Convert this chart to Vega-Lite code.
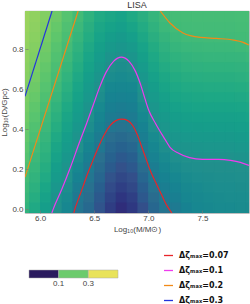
{
"$schema":"https://vega.github.io/schema/vega-lite/v6.json",
"width":224,"height":202,
"autosize":{"type":"none"},
"padding":{"left":25,"top":11,"right":1,"bottom":91},
"background":"white",
"title":{"text":"LISA","fontSize":9,"fontWeight":"normal","font":"Liberation Sans","color":"#333","offset":2,"dy":1,"frame":"group"},
"config":{"view":{"stroke":"#999","strokeWidth":0.8},"font":"Liberation Sans"},
"datasets":{
"grid":[
{"x":5.85,"y":-0.025,"z":0.167},{"x":5.85,"y":0.025,"z":0.177},{"x":5.85,"y":0.075,"z":0.186},{"x":5.85,"y":0.125,"z":0.196},{"x":5.85,"y":0.175,"z":0.208},{"x":5.85,"y":0.225,"z":0.220},{"x":5.85,"y":0.275,"z":0.233},{"x":5.85,"y":0.325,"z":0.245},{"x":5.85,"y":0.375,"z":0.258},{"x":5.85,"y":0.425,"z":0.270},{"x":5.85,"y":0.475,"z":0.283},{"x":5.85,"y":0.525,"z":0.295},{"x":5.85,"y":0.575,"z":0.307},{"x":5.85,"y":0.625,"z":0.317},{"x":5.85,"y":0.675,"z":0.327},{"x":5.85,"y":0.725,"z":0.337},{"x":5.85,"y":0.775,"z":0.346},{"x":5.85,"y":0.825,"z":0.355},{"x":5.85,"y":0.875,"z":0.363},{"x":5.85,"y":0.925,"z":0.371},{"x":5.85,"y":0.975,"z":0.378},
{"x":5.95,"y":-0.025,"z":0.139},{"x":5.95,"y":0.025,"z":0.149},{"x":5.95,"y":0.075,"z":0.158},{"x":5.95,"y":0.125,"z":0.167},{"x":5.95,"y":0.175,"z":0.176},{"x":5.95,"y":0.225,"z":0.185},{"x":5.95,"y":0.275,"z":0.194},{"x":5.95,"y":0.325,"z":0.204},{"x":5.95,"y":0.375,"z":0.217},{"x":5.95,"y":0.425,"z":0.229},{"x":5.95,"y":0.475,"z":0.241},{"x":5.95,"y":0.525,"z":0.253},{"x":5.95,"y":0.575,"z":0.266},{"x":5.95,"y":0.625,"z":0.278},{"x":5.95,"y":0.675,"z":0.290},{"x":5.95,"y":0.725,"z":0.302},{"x":5.95,"y":0.775,"z":0.313},{"x":5.95,"y":0.825,"z":0.323},{"x":5.95,"y":0.875,"z":0.333},{"x":5.95,"y":0.925,"z":0.342},{"x":5.95,"y":0.975,"z":0.350},
{"x":6.05,"y":-0.025,"z":0.116},{"x":6.05,"y":0.025,"z":0.124},{"x":6.05,"y":0.075,"z":0.133},{"x":6.05,"y":0.125,"z":0.141},{"x":6.05,"y":0.175,"z":0.150},{"x":6.05,"y":0.225,"z":0.158},{"x":6.05,"y":0.275,"z":0.167},{"x":6.05,"y":0.325,"z":0.175},{"x":6.05,"y":0.375,"z":0.184},{"x":6.05,"y":0.425,"z":0.192},{"x":6.05,"y":0.475,"z":0.201},{"x":6.05,"y":0.525,"z":0.213},{"x":6.05,"y":0.575,"z":0.225},{"x":6.05,"y":0.625,"z":0.237},{"x":6.05,"y":0.675,"z":0.249},{"x":6.05,"y":0.725,"z":0.261},{"x":6.05,"y":0.775,"z":0.273},{"x":6.05,"y":0.825,"z":0.285},{"x":6.05,"y":0.875,"z":0.297},{"x":6.05,"y":0.925,"z":0.308},{"x":6.05,"y":0.975,"z":0.318},
{"x":6.15,"y":-0.025,"z":0.097},{"x":6.15,"y":0.025,"z":0.100},{"x":6.15,"y":0.075,"z":0.105},{"x":6.15,"y":0.125,"z":0.111},{"x":6.15,"y":0.175,"z":0.118},{"x":6.15,"y":0.225,"z":0.125},{"x":6.15,"y":0.275,"z":0.133},{"x":6.15,"y":0.325,"z":0.140},{"x":6.15,"y":0.375,"z":0.149},{"x":6.15,"y":0.425,"z":0.158},{"x":6.15,"y":0.475,"z":0.167},{"x":6.15,"y":0.525,"z":0.177},{"x":6.15,"y":0.575,"z":0.187},{"x":6.15,"y":0.625,"z":0.198},{"x":6.15,"y":0.675,"z":0.208},{"x":6.15,"y":0.725,"z":0.218},{"x":6.15,"y":0.775,"z":0.229},{"x":6.15,"y":0.825,"z":0.240},{"x":6.15,"y":0.875,"z":0.252},{"x":6.15,"y":0.925,"z":0.264},{"x":6.15,"y":0.975,"z":0.277},
{"x":6.25,"y":-0.025,"z":0.083},{"x":6.25,"y":0.025,"z":0.087},{"x":6.25,"y":0.075,"z":0.091},{"x":6.25,"y":0.125,"z":0.096},{"x":6.25,"y":0.175,"z":0.101},{"x":6.25,"y":0.225,"z":0.106},{"x":6.25,"y":0.275,"z":0.112},{"x":6.25,"y":0.325,"z":0.119},{"x":6.25,"y":0.375,"z":0.125},{"x":6.25,"y":0.425,"z":0.133},{"x":6.25,"y":0.475,"z":0.140},{"x":6.25,"y":0.525,"z":0.148},{"x":6.25,"y":0.575,"z":0.157},{"x":6.25,"y":0.625,"z":0.166},{"x":6.25,"y":0.675,"z":0.175},{"x":6.25,"y":0.725,"z":0.185},{"x":6.25,"y":0.775,"z":0.195},{"x":6.25,"y":0.825,"z":0.206},{"x":6.25,"y":0.875,"z":0.216},{"x":6.25,"y":0.925,"z":0.226},{"x":6.25,"y":0.975,"z":0.237},
{"x":6.35,"y":-0.025,"z":0.065},{"x":6.35,"y":0.025,"z":0.068},{"x":6.35,"y":0.075,"z":0.071},{"x":6.35,"y":0.125,"z":0.076},{"x":6.35,"y":0.175,"z":0.082},{"x":6.35,"y":0.225,"z":0.088},{"x":6.35,"y":0.275,"z":0.094},{"x":6.35,"y":0.325,"z":0.101},{"x":6.35,"y":0.375,"z":0.106},{"x":6.35,"y":0.425,"z":0.112},{"x":6.35,"y":0.475,"z":0.119},{"x":6.35,"y":0.525,"z":0.125},{"x":6.35,"y":0.575,"z":0.132},{"x":6.35,"y":0.625,"z":0.139},{"x":6.35,"y":0.675,"z":0.147},{"x":6.35,"y":0.725,"z":0.155},{"x":6.35,"y":0.775,"z":0.164},{"x":6.35,"y":0.825,"z":0.173},{"x":6.35,"y":0.875,"z":0.183},{"x":6.35,"y":0.925,"z":0.193},{"x":6.35,"y":0.975,"z":0.203},
{"x":6.45,"y":-0.025,"z":0.054},{"x":6.45,"y":0.025,"z":0.057},{"x":6.45,"y":0.075,"z":0.061},{"x":6.45,"y":0.125,"z":0.065},{"x":6.45,"y":0.175,"z":0.069},{"x":6.45,"y":0.225,"z":0.073},{"x":6.45,"y":0.275,"z":0.078},{"x":6.45,"y":0.325,"z":0.084},{"x":6.45,"y":0.375,"z":0.089},{"x":6.45,"y":0.425,"z":0.096},{"x":6.45,"y":0.475,"z":0.102},{"x":6.45,"y":0.525,"z":0.107},{"x":6.45,"y":0.575,"z":0.113},{"x":6.45,"y":0.625,"z":0.119},{"x":6.45,"y":0.675,"z":0.125},{"x":6.45,"y":0.725,"z":0.132},{"x":6.45,"y":0.775,"z":0.139},{"x":6.45,"y":0.825,"z":0.147},{"x":6.45,"y":0.875,"z":0.155},{"x":6.45,"y":0.925,"z":0.163},{"x":6.45,"y":0.975,"z":0.172},
{"x":6.55,"y":-0.025,"z":0.038},{"x":6.55,"y":0.025,"z":0.042},{"x":6.55,"y":0.075,"z":0.045},{"x":6.55,"y":0.125,"z":0.049},{"x":6.55,"y":0.175,"z":0.054},{"x":6.55,"y":0.225,"z":0.059},{"x":6.55,"y":0.275,"z":0.064},{"x":6.55,"y":0.325,"z":0.070},{"x":6.55,"y":0.375,"z":0.075},{"x":6.55,"y":0.425,"z":0.080},{"x":6.55,"y":0.475,"z":0.085},{"x":6.55,"y":0.525,"z":0.090},{"x":6.55,"y":0.575,"z":0.096},{"x":6.55,"y":0.625,"z":0.102},{"x":6.55,"y":0.675,"z":0.108},{"x":6.55,"y":0.725,"z":0.114},{"x":6.55,"y":0.775,"z":0.120},{"x":6.55,"y":0.825,"z":0.127},{"x":6.55,"y":0.875,"z":0.134},{"x":6.55,"y":0.925,"z":0.142},{"x":6.55,"y":0.975,"z":0.150},
{"x":6.65,"y":-0.025,"z":0.027},{"x":6.65,"y":0.025,"z":0.030},{"x":6.65,"y":0.075,"z":0.033},{"x":6.65,"y":0.125,"z":0.037},{"x":6.65,"y":0.175,"z":0.041},{"x":6.65,"y":0.225,"z":0.046},{"x":6.65,"y":0.275,"z":0.051},{"x":6.65,"y":0.325,"z":0.056},{"x":6.65,"y":0.375,"z":0.062},{"x":6.65,"y":0.425,"z":0.069},{"x":6.65,"y":0.475,"z":0.074},{"x":6.65,"y":0.525,"z":0.078},{"x":6.65,"y":0.575,"z":0.083},{"x":6.65,"y":0.625,"z":0.088},{"x":6.65,"y":0.675,"z":0.094},{"x":6.65,"y":0.725,"z":0.099},{"x":6.65,"y":0.775,"z":0.107},{"x":6.65,"y":0.825,"z":0.114},{"x":6.65,"y":0.875,"z":0.123},{"x":6.65,"y":0.925,"z":0.132},{"x":6.65,"y":0.975,"z":0.142},
{"x":6.75,"y":-0.025,"z":0.021},{"x":6.75,"y":0.025,"z":0.024},{"x":6.75,"y":0.075,"z":0.027},{"x":6.75,"y":0.125,"z":0.031},{"x":6.75,"y":0.175,"z":0.035},{"x":6.75,"y":0.225,"z":0.040},{"x":6.75,"y":0.275,"z":0.045},{"x":6.75,"y":0.325,"z":0.051},{"x":6.75,"y":0.375,"z":0.058},{"x":6.75,"y":0.425,"z":0.066},{"x":6.75,"y":0.475,"z":0.072},{"x":6.75,"y":0.525,"z":0.076},{"x":6.75,"y":0.575,"z":0.081},{"x":6.75,"y":0.625,"z":0.086},{"x":6.75,"y":0.675,"z":0.091},{"x":6.75,"y":0.725,"z":0.096},{"x":6.75,"y":0.775,"z":0.102},{"x":6.75,"y":0.825,"z":0.110},{"x":6.75,"y":0.875,"z":0.117},{"x":6.75,"y":0.925,"z":0.126},{"x":6.75,"y":0.975,"z":0.135},
{"x":6.85,"y":-0.025,"z":0.025},{"x":6.85,"y":0.025,"z":0.028},{"x":6.85,"y":0.075,"z":0.031},{"x":6.85,"y":0.125,"z":0.035},{"x":6.85,"y":0.175,"z":0.039},{"x":6.85,"y":0.225,"z":0.044},{"x":6.85,"y":0.275,"z":0.049},{"x":6.85,"y":0.325,"z":0.055},{"x":6.85,"y":0.375,"z":0.062},{"x":6.85,"y":0.425,"z":0.069},{"x":6.85,"y":0.475,"z":0.074},{"x":6.85,"y":0.525,"z":0.078},{"x":6.85,"y":0.575,"z":0.083},{"x":6.85,"y":0.625,"z":0.088},{"x":6.85,"y":0.675,"z":0.094},{"x":6.85,"y":0.725,"z":0.099},{"x":6.85,"y":0.775,"z":0.108},{"x":6.85,"y":0.825,"z":0.116},{"x":6.85,"y":0.875,"z":0.126},{"x":6.85,"y":0.925,"z":0.137},{"x":6.85,"y":0.975,"z":0.148},
{"x":6.95,"y":-0.025,"z":0.035},{"x":6.95,"y":0.025,"z":0.039},{"x":6.95,"y":0.075,"z":0.044},{"x":6.95,"y":0.125,"z":0.048},{"x":6.95,"y":0.175,"z":0.054},{"x":6.95,"y":0.225,"z":0.060},{"x":6.95,"y":0.275,"z":0.067},{"x":6.95,"y":0.325,"z":0.073},{"x":6.95,"y":0.375,"z":0.077},{"x":6.95,"y":0.425,"z":0.082},{"x":6.95,"y":0.475,"z":0.087},{"x":6.95,"y":0.525,"z":0.093},{"x":6.95,"y":0.575,"z":0.099},{"x":6.95,"y":0.625,"z":0.105},{"x":6.95,"y":0.675,"z":0.112},{"x":6.95,"y":0.725,"z":0.119},{"x":6.95,"y":0.775,"z":0.127},{"x":6.95,"y":0.825,"z":0.135},{"x":6.95,"y":0.875,"z":0.144},{"x":6.95,"y":0.925,"z":0.153},{"x":6.95,"y":0.975,"z":0.163},
{"x":7.05,"y":-0.025,"z":0.050},{"x":7.05,"y":0.025,"z":0.055},{"x":7.05,"y":0.075,"z":0.060},{"x":7.05,"y":0.125,"z":0.066},{"x":7.05,"y":0.175,"z":0.072},{"x":7.05,"y":0.225,"z":0.076},{"x":7.05,"y":0.275,"z":0.081},{"x":7.05,"y":0.325,"z":0.086},{"x":7.05,"y":0.375,"z":0.092},{"x":7.05,"y":0.425,"z":0.098},{"x":7.05,"y":0.475,"z":0.103},{"x":7.05,"y":0.525,"z":0.109},{"x":7.05,"y":0.575,"z":0.116},{"x":7.05,"y":0.625,"z":0.123},{"x":7.05,"y":0.675,"z":0.130},{"x":7.05,"y":0.725,"z":0.138},{"x":7.05,"y":0.775,"z":0.146},{"x":7.05,"y":0.825,"z":0.154},{"x":7.05,"y":0.875,"z":0.163},{"x":7.05,"y":0.925,"z":0.173},{"x":7.05,"y":0.975,"z":0.183},
{"x":7.15,"y":-0.025,"z":0.062},{"x":7.15,"y":0.025,"z":0.068},{"x":7.15,"y":0.075,"z":0.073},{"x":7.15,"y":0.125,"z":0.077},{"x":7.15,"y":0.175,"z":0.082},{"x":7.15,"y":0.225,"z":0.086},{"x":7.15,"y":0.275,"z":0.092},{"x":7.15,"y":0.325,"z":0.097},{"x":7.15,"y":0.375,"z":0.103},{"x":7.15,"y":0.425,"z":0.109},{"x":7.15,"y":0.475,"z":0.115},{"x":7.15,"y":0.525,"z":0.122},{"x":7.15,"y":0.575,"z":0.129},{"x":7.15,"y":0.625,"z":0.136},{"x":7.15,"y":0.675,"z":0.144},{"x":7.15,"y":0.725,"z":0.153},{"x":7.15,"y":0.775,"z":0.162},{"x":7.15,"y":0.825,"z":0.171},{"x":7.15,"y":0.875,"z":0.181},{"x":7.15,"y":0.925,"z":0.192},{"x":7.15,"y":0.975,"z":0.201},
{"x":7.25,"y":-0.025,"z":0.070},{"x":7.25,"y":0.025,"z":0.073},{"x":7.25,"y":0.075,"z":0.078},{"x":7.25,"y":0.125,"z":0.083},{"x":7.25,"y":0.175,"z":0.087},{"x":7.25,"y":0.225,"z":0.093},{"x":7.25,"y":0.275,"z":0.098},{"x":7.25,"y":0.325,"z":0.104},{"x":7.25,"y":0.375,"z":0.110},{"x":7.25,"y":0.425,"z":0.116},{"x":7.25,"y":0.475,"z":0.123},{"x":7.25,"y":0.525,"z":0.130},{"x":7.25,"y":0.575,"z":0.138},{"x":7.25,"y":0.625,"z":0.146},{"x":7.25,"y":0.675,"z":0.154},{"x":7.25,"y":0.725,"z":0.163},{"x":7.25,"y":0.775,"z":0.172},{"x":7.25,"y":0.825,"z":0.182},{"x":7.25,"y":0.875,"z":0.192},{"x":7.25,"y":0.925,"z":0.203},{"x":7.25,"y":0.975,"z":0.208},
{"x":7.35,"y":-0.025,"z":0.079},{"x":7.35,"y":0.025,"z":0.082},{"x":7.35,"y":0.075,"z":0.086},{"x":7.35,"y":0.125,"z":0.089},{"x":7.35,"y":0.175,"z":0.093},{"x":7.35,"y":0.225,"z":0.097},{"x":7.35,"y":0.275,"z":0.101},{"x":7.35,"y":0.325,"z":0.107},{"x":7.35,"y":0.375,"z":0.113},{"x":7.35,"y":0.425,"z":0.120},{"x":7.35,"y":0.475,"z":0.127},{"x":7.35,"y":0.525,"z":0.134},{"x":7.35,"y":0.575,"z":0.142},{"x":7.35,"y":0.625,"z":0.150},{"x":7.35,"y":0.675,"z":0.159},{"x":7.35,"y":0.725,"z":0.169},{"x":7.35,"y":0.775,"z":0.178},{"x":7.35,"y":0.825,"z":0.189},{"x":7.35,"y":0.875,"z":0.200},{"x":7.35,"y":0.925,"z":0.204},{"x":7.35,"y":0.975,"z":0.208},
{"x":7.45,"y":-0.025,"z":0.084},{"x":7.45,"y":0.025,"z":0.087},{"x":7.45,"y":0.075,"z":0.089},{"x":7.45,"y":0.125,"z":0.092},{"x":7.45,"y":0.175,"z":0.095},{"x":7.45,"y":0.225,"z":0.098},{"x":7.45,"y":0.275,"z":0.102},{"x":7.45,"y":0.325,"z":0.108},{"x":7.45,"y":0.375,"z":0.115},{"x":7.45,"y":0.425,"z":0.121},{"x":7.45,"y":0.475,"z":0.128},{"x":7.45,"y":0.525,"z":0.136},{"x":7.45,"y":0.575,"z":0.144},{"x":7.45,"y":0.625,"z":0.152},{"x":7.45,"y":0.675,"z":0.161},{"x":7.45,"y":0.725,"z":0.171},{"x":7.45,"y":0.775,"z":0.181},{"x":7.45,"y":0.825,"z":0.191},{"x":7.45,"y":0.875,"z":0.201},{"x":7.45,"y":0.925,"z":0.205},{"x":7.45,"y":0.975,"z":0.209},
{"x":7.55,"y":-0.025,"z":0.087},{"x":7.55,"y":0.025,"z":0.089},{"x":7.55,"y":0.075,"z":0.092},{"x":7.55,"y":0.125,"z":0.094},{"x":7.55,"y":0.175,"z":0.096},{"x":7.55,"y":0.225,"z":0.099},{"x":7.55,"y":0.275,"z":0.103},{"x":7.55,"y":0.325,"z":0.109},{"x":7.55,"y":0.375,"z":0.115},{"x":7.55,"y":0.425,"z":0.122},{"x":7.55,"y":0.475,"z":0.129},{"x":7.55,"y":0.525,"z":0.137},{"x":7.55,"y":0.575,"z":0.145},{"x":7.55,"y":0.625,"z":0.153},{"x":7.55,"y":0.675,"z":0.162},{"x":7.55,"y":0.725,"z":0.172},{"x":7.55,"y":0.775,"z":0.182},{"x":7.55,"y":0.825,"z":0.192},{"x":7.55,"y":0.875,"z":0.202},{"x":7.55,"y":0.925,"z":0.205},{"x":7.55,"y":0.975,"z":0.209},
{"x":7.65,"y":-0.025,"z":0.089},{"x":7.65,"y":0.025,"z":0.091},{"x":7.65,"y":0.075,"z":0.093},{"x":7.65,"y":0.125,"z":0.095},{"x":7.65,"y":0.175,"z":0.097},{"x":7.65,"y":0.225,"z":0.099},{"x":7.65,"y":0.275,"z":0.103},{"x":7.65,"y":0.325,"z":0.109},{"x":7.65,"y":0.375,"z":0.115},{"x":7.65,"y":0.425,"z":0.122},{"x":7.65,"y":0.475,"z":0.129},{"x":7.65,"y":0.525,"z":0.137},{"x":7.65,"y":0.575,"z":0.145},{"x":7.65,"y":0.625,"z":0.153},{"x":7.65,"y":0.675,"z":0.162},{"x":7.65,"y":0.725,"z":0.172},{"x":7.65,"y":0.775,"z":0.182},{"x":7.65,"y":0.825,"z":0.192},{"x":7.65,"y":0.875,"z":0.202},{"x":7.65,"y":0.925,"z":0.205},{"x":7.65,"y":0.975,"z":0.209},
{"x":7.75,"y":-0.025,"z":0.090},{"x":7.75,"y":0.025,"z":0.092},{"x":7.75,"y":0.075,"z":0.094},{"x":7.75,"y":0.125,"z":0.095},{"x":7.75,"y":0.175,"z":0.097},{"x":7.75,"y":0.225,"z":0.099},{"x":7.75,"y":0.275,"z":0.103},{"x":7.75,"y":0.325,"z":0.109},{"x":7.75,"y":0.375,"z":0.115},{"x":7.75,"y":0.425,"z":0.122},{"x":7.75,"y":0.475,"z":0.129},{"x":7.75,"y":0.525,"z":0.137},{"x":7.75,"y":0.575,"z":0.145},{"x":7.75,"y":0.625,"z":0.153},{"x":7.75,"y":0.675,"z":0.162},{"x":7.75,"y":0.725,"z":0.172},{"x":7.75,"y":0.775,"z":0.182},{"x":7.75,"y":0.825,"z":0.192},{"x":7.75,"y":0.875,"z":0.201},{"x":7.75,"y":0.925,"z":0.205},{"x":7.75,"y":0.975,"z":0.209},
{"x":7.85,"y":-0.025,"z":0.091},{"x":7.85,"y":0.025,"z":0.093},{"x":7.85,"y":0.075,"z":0.094},{"x":7.85,"y":0.125,"z":0.096},{"x":7.85,"y":0.175,"z":0.098},{"x":7.85,"y":0.225,"z":0.100},{"x":7.85,"y":0.275,"z":0.105},{"x":7.85,"y":0.325,"z":0.111},{"x":7.85,"y":0.375,"z":0.117},{"x":7.85,"y":0.425,"z":0.124},{"x":7.85,"y":0.475,"z":0.131},{"x":7.85,"y":0.525,"z":0.139},{"x":7.85,"y":0.575,"z":0.147},{"x":7.85,"y":0.625,"z":0.155},{"x":7.85,"y":0.675,"z":0.165},{"x":7.85,"y":0.725,"z":0.174},{"x":7.85,"y":0.775,"z":0.184},{"x":7.85,"y":0.825,"z":0.195},{"x":7.85,"y":0.875,"z":0.203},{"x":7.85,"y":0.925,"z":0.207},{"x":7.85,"y":0.975,"z":0.211},
{"x":7.95,"y":-0.025,"z":0.091},{"x":7.95,"y":0.025,"z":0.093},{"x":7.95,"y":0.075,"z":0.095},{"x":7.95,"y":0.125,"z":0.097},{"x":7.95,"y":0.175,"z":0.098},{"x":7.95,"y":0.225,"z":0.101},{"x":7.95,"y":0.275,"z":0.107},{"x":7.95,"y":0.325,"z":0.113},{"x":7.95,"y":0.375,"z":0.120},{"x":7.95,"y":0.425,"z":0.127},{"x":7.95,"y":0.475,"z":0.134},{"x":7.95,"y":0.525,"z":0.142},{"x":7.95,"y":0.575,"z":0.150},{"x":7.95,"y":0.625,"z":0.159},{"x":7.95,"y":0.675,"z":0.169},{"x":7.95,"y":0.725,"z":0.178},{"x":7.95,"y":0.775,"z":0.189},{"x":7.95,"y":0.825,"z":0.200},{"x":7.95,"y":0.875,"z":0.205},{"x":7.95,"y":0.925,"z":0.209},{"x":7.95,"y":0.975,"z":0.213}
],
"contours":[
{"x":6.311,"y":-0.018,"level":"0.07","seg":"r"},{"x":6.32,"y":0.0,"level":"0.07","seg":"r"},{"x":6.36,"y":0.06,"level":"0.07","seg":"r"},{"x":6.40,"y":0.12,"level":"0.07","seg":"r"},{"x":6.44,"y":0.18,"level":"0.07","seg":"r"},{"x":6.47,"y":0.22,"level":"0.07","seg":"r"},{"x":6.53,"y":0.30,"level":"0.07","seg":"r"},{"x":6.59,"y":0.37,"level":"0.07","seg":"r"},{"x":6.65,"y":0.42,"level":"0.07","seg":"r"},{"x":6.70,"y":0.443,"level":"0.07","seg":"r"},{"x":6.756,"y":0.45,"level":"0.07","seg":"r"},{"x":6.81,"y":0.443,"level":"0.07","seg":"r"},{"x":6.86,"y":0.415,"level":"0.07","seg":"r"},{"x":6.90,"y":0.37,"level":"0.07","seg":"r"},{"x":6.94,"y":0.31,"level":"0.07","seg":"r"},{"x":6.98,"y":0.25,"level":"0.07","seg":"r"},{"x":7.02,"y":0.19,"level":"0.07","seg":"r"},{"x":7.065,"y":0.138,"level":"0.07","seg":"r"},{"x":7.12,"y":0.075,"level":"0.07","seg":"r"},{"x":7.17,"y":0.02,"level":"0.07","seg":"r"},{"x":7.217,"y":-0.018,"level":"0.07","seg":"r"},
{"x":6.108,"y":-0.018,"level":"0.1","seg":"m"},{"x":6.12,"y":0.0,"level":"0.1","seg":"m"},{"x":6.20,"y":0.10,"level":"0.1","seg":"m"},{"x":6.28,"y":0.21,"level":"0.1","seg":"m"},{"x":6.36,"y":0.33,"level":"0.1","seg":"m"},{"x":6.43,"y":0.43,"level":"0.1","seg":"m"},{"x":6.49,"y":0.52,"level":"0.1","seg":"m"},{"x":6.55,"y":0.61,"level":"0.1","seg":"m"},{"x":6.61,"y":0.685,"level":"0.1","seg":"m"},{"x":6.68,"y":0.74,"level":"0.1","seg":"m"},{"x":6.75,"y":0.76,"level":"0.1","seg":"m"},{"x":6.82,"y":0.74,"level":"0.1","seg":"m"},{"x":6.88,"y":0.69,"level":"0.1","seg":"m"},{"x":6.93,"y":0.62,"level":"0.1","seg":"m"},{"x":6.97,"y":0.55,"level":"0.1","seg":"m"},{"x":7.00,"y":0.50,"level":"0.1","seg":"m"},{"x":7.065,"y":0.43,"level":"0.1","seg":"m"},{"x":7.157,"y":0.347,"level":"0.1","seg":"m"},{"x":7.20,"y":0.31,"level":"0.1","seg":"m"},{"x":7.28,"y":0.28,"level":"0.1","seg":"m"},{"x":7.38,"y":0.258,"level":"0.1","seg":"m"},{"x":7.50,"y":0.25,"level":"0.1","seg":"m"},{"x":7.65,"y":0.25,"level":"0.1","seg":"m"},{"x":7.76,"y":0.245,"level":"0.1","seg":"m"},{"x":7.85,"y":0.235,"level":"0.1","seg":"m"},{"x":7.93,"y":0.219,"level":"0.1","seg":"m"},
{"x":5.86,"y":0.161,"level":"0.2","seg":"oa"},{"x":6.351,"y":0.99,"level":"0.2","seg":"oa"},
{"x":7.11,"y":0.99,"level":"0.2","seg":"ob"},{"x":7.20,"y":0.93,"level":"0.2","seg":"ob"},{"x":7.32,"y":0.88,"level":"0.2","seg":"ob"},{"x":7.48,"y":0.858,"level":"0.2","seg":"ob"},{"x":7.63,"y":0.853,"level":"0.2","seg":"ob"},{"x":7.79,"y":0.845,"level":"0.2","seg":"ob"},{"x":7.87,"y":0.835,"level":"0.2","seg":"ob"},{"x":7.93,"y":0.82,"level":"0.2","seg":"ob"},
{"x":5.86,"y":0.564,"level":"0.3","seg":"b"},{"x":6.11,"y":0.99,"level":"0.3","seg":"b"}
],
"bar":[{"c":0.05},{"c":0.2},{"c":0.4}]
},
"resolve":{"scale":{"fill":"independent"}},
"layer":[
{"data":{"name":"grid"},
 "mark":{"type":"rect","clip":true,"binSpacing":0,"strokeWidth":1.2},
 "encoding":{
  "x":{"field":"x","type":"quantitative","bin":{"step":0.1,"extent":[5.8,8.0],"nice":false},"title":"Log₁₀(M/M⊙)",
       "scale":{"domain":[5.86,7.93],"nice":false,"zero":false},
       "axis":{"values":[6,6.5,7,7.5],"format":".1f","domain":false,"grid":false,"tickSize":-3,"tickColor":"#777","tickWidth":0.6,"labelFontSize":8,"labelColor":"#444","labelPadding":4,"titleFontSize":8,"titleFontWeight":"normal","titleColor":"#444","titlePadding":3}},
  "y":{"field":"y","type":"quantitative","bin":{"step":0.05,"extent":[-0.06,0.99],"nice":false},"title":"Log₁₀(Dₗ/Gpc)",
       "scale":{"domain":[-0.018,0.99],"nice":false,"zero":false},
       "axis":{"values":[0,0.2,0.4,0.6,0.8],"format":".1f","domain":false,"grid":false,"tickSize":-3,"tickColor":"#777","tickWidth":0.6,"labelFontSize":8,"labelColor":"#444","labelPadding":5,"titleFontSize":8,"titleFontWeight":"normal","titleColor":"#444","titlePadding":3}},
  "fill":{"field":"z","type":"quantitative","scale":{"type":"log","domain":[0.0157,0.637],"range":["#2a135c","#2f2f7d","#34508a","#2b6f8e","#21908c","#27ad81","#5ec66c","#a4d55c","#e9e35a"]},"legend":null},
  "stroke":{"field":"z","type":"quantitative","scale":{"type":"log","domain":[0.0157,0.637],"range":["#2a135c","#2f2f7d","#34508a","#2b6f8e","#21908c","#27ad81","#5ec66c","#a4d55c","#e9e35a"]},"legend":null}
 }},
{"data":{"name":"contours"},
 "mark":{"type":"line","clip":true,"strokeWidth":1.2,"interpolate":"monotone"},
 "encoding":{
  "x":{"field":"x","type":"quantitative","title":"Log₁₀(M/M⊙)"},
  "y":{"field":"y","type":"quantitative","title":"Log₁₀(Dₗ/Gpc)"},
  "detail":{"field":"seg","type":"nominal"},
  "color":{"field":"level","type":"nominal","scale":{"domain":["0.07","0.1","0.2","0.3"],"range":["#e8262a","#ee3cee","#f28a18","#2233dd"]},
   "legend":{"orient":"none","legendX":138,"legendY":239,"title":null,"symbolType":"stroke","symbolSize":81,"symbolStrokeWidth":1.3,"labelFont":"DejaVu Sans","labelFontWeight":"bold","labelFontSize":8,"labelColor":"#111","rowPadding":5,"labelOffset":5,"padding":0,"labelExpr":"'Δζₘₐₓ=' + datum.label"}}
 }},
{"data":{"name":"bar"},
 "mark":{"type":"rect","opacity":0},
 "encoding":{
  "fill":{"field":"c","type":"quantitative","scale":{"type":"threshold","domain":[0.1,0.3],"range":["#2a1a5e","#6ccb6d","#e9e35a"]},
   "legend":{"orient":"none","legendX":4,"legendY":259,"direction":"horizontal","type":"gradient","title":null,"gradientLength":89,"gradientThickness":8,"gradientStrokeWidth":0.5,"gradientStrokeColor":"#aaa","labelFont":"Liberation Sans","labelFontSize":8,"labelColor":"#444","padding":0}}
 }}
]
}
